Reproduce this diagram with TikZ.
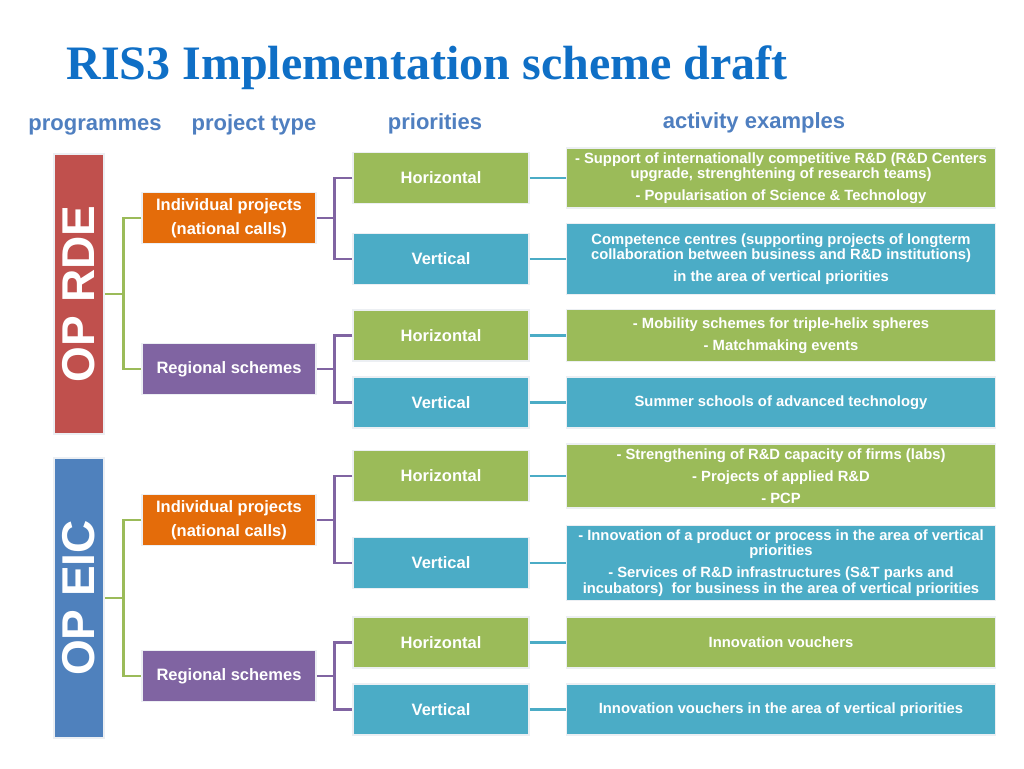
\documentclass[tikz,border=0pt]{standalone}
\usepackage{fontspec}
\setmainfont{Liberation Sans}
\newfontfamily\titlefont{Liberation Serif}
\usepackage{graphicx}
\usepackage{tikz}
\usetikzlibrary{positioning}
\definecolor{ristitle}{HTML}{0F6FC6}
\definecolor{headblue}{HTML}{4F7FC0}
\definecolor{rdered}{HTML}{C0504D}
\definecolor{eicblue}{HTML}{4F81BD}
\definecolor{indorange}{HTML}{E46C0A}
\definecolor{regpurple}{HTML}{8064A2}
\definecolor{horgreen}{HTML}{9BBB59}
\definecolor{vertteal}{HTML}{4BACC6}
\definecolor{halo}{HTML}{ECEFF3}

\begin{document}
\begin{tikzpicture}[
  x=1pt,y=-1pt,
  node distance=36pt,
  base/.style={draw=halo,line width=1.5pt,text=white,align=center,inner sep=0pt},
  progbox/.style={base,minimum width=50pt,minimum height=280pt,font=\fontsize{46}{46}\selectfont\bfseries},
  typebox/.style={base,minimum width=174pt,minimum height=51pt,font=\fontsize{16.5}{24.5}\selectfont\bfseries},
  priobox/.style={base,minimum width=176pt,minimum height=51pt,font=\fontsize{16.5}{20}\selectfont\bfseries},
  actbox/.style={base,minimum width=429pt,font=\fontsize{14.8}{15.5}\selectfont\bfseries},
  colhead/.style={text=headblue,anchor=base,font=\fontsize{22}{22}\selectfont\bfseries},
  tree/.style={line width=2.8pt}
]
\useasboundingbox (0,0) rectangle (1024,768);
\fill[white] (0,0) rectangle (1024,768);

\node[anchor=base west,text=ristitle,font=\titlefont\fontsize{48}{48}\selectfont\bfseries] (title) at (63,79) {RIS3 Implementation scheme draft};

\node[colhead] (hprog) at (95,130) {programmes};
\node[colhead] (htype) at (254,130) {project type};
\node[colhead] (hprio) at (435,129) {priorities};
\node[colhead] (hact) at (754,128) {activity examples};

% programmes
\node[progbox,fill=rdered] (rde) at (79,294) {\rotatebox{90}{OP RDE}};
\node[progbox,fill=eicblue] (eic) at (79,598) {\rotatebox{90}{OP EIC}};

% project types
\node[typebox,fill=indorange] (ind1) at (229,218) {Individual projects\\(national calls)};
\node[typebox,fill=regpurple] (reg1) at (229,369) {Regional schemes};
\node[typebox,fill=indorange] (ind2) at (229,520) {Individual projects\\(national calls)};
\node[typebox,fill=regpurple] (reg2) at (229,676) {Regional schemes};

% priorities
\node[priobox,fill=horgreen] (hor1) at (441,178) {Horizontal};
\node[priobox,fill=vertteal] (ver1) at (441,259) {Vertical};
\node[priobox,fill=horgreen] (hor2) at (441,335.5) {Horizontal};
\node[priobox,fill=vertteal] (ver2) at (441,402.5) {Vertical};
\node[priobox,fill=horgreen] (hor3) at (441,476) {Horizontal};
\node[priobox,fill=vertteal] (ver3) at (441,563) {Vertical};
\node[priobox,fill=horgreen] (hor4) at (441,642.5) {Horizontal};
\node[priobox,fill=vertteal] (ver4) at (441,709.5) {Vertical};

% activity examples
\node[actbox,fill=horgreen,minimum height=60pt,right=of hor1] (act1) {- Support of internationally competitive R\&D (R\&D Centers\\upgrade, strenghtening of research teams)\\[6.5pt]- Popularisation of Science \& Technology};
\node[actbox,fill=vertteal,minimum height=71pt,right=of ver1] (act2) {Competence centres (supporting projects of longterm\\collaboration between business and R\&D institutions)\\[6.5pt]in the area of vertical priorities};
\node[actbox,fill=horgreen,minimum height=52pt,right=of hor2] (act3) {- Mobility schemes for triple-helix spheres\\[6.5pt]- Matchmaking events};
\node[actbox,fill=vertteal,minimum height=51pt,right=of ver2] (act4) {Summer schools of advanced technology};
\node[actbox,fill=horgreen,minimum height=64pt,right=of hor3] (act5) {- Strengthening of R\&D capacity of firms (labs)\\[6.5pt]- Projects of applied R\&D\\[6.5pt]- PCP};
\node[actbox,fill=vertteal,minimum height=75pt,right=of ver3] (act6) {- Innovation of a product or process in the area of vertical\\priorities\\[6.5pt]- Services of R\&D infrastructures (S\&T parks and\\incubators)\ \ for business in the area of vertical priorities};
\node[actbox,fill=horgreen,minimum height=51pt,right=of hor4] (act7) {Innovation vouchers};
\node[actbox,fill=vertteal,minimum height=51pt,right=of ver4] (act8) {Innovation vouchers in the area of vertical priorities};

% green trees
\coordinate (gj1) at ([xshift=19pt]rde.east);
\coordinate (gj2) at ([xshift=19pt]eic.east);
\draw[tree,horgreen] (rde) -- (gj1);
\draw[tree,horgreen] (ind1) -| (gj1) |- (reg1);
\draw[tree,horgreen] (eic) -- (gj2);
\draw[tree,horgreen] (ind2) -| (gj2) |- (reg2);

% purple trees
\coordinate (pj1) at ([xshift=18pt]ind1.east);
\coordinate (pj2) at ([xshift=18pt]reg1.east);
\coordinate (pj3) at ([xshift=18pt]ind2.east);
\coordinate (pj4) at ([xshift=18pt]reg2.east);
\draw[tree,regpurple] (ind1) -- (pj1);
\draw[tree,regpurple] (hor1) -| (pj1) |- (ver1);
\draw[tree,regpurple] (reg1) -- (pj2);
\draw[tree,regpurple] (hor2) -| (pj2) |- (ver2);
\draw[tree,regpurple] (ind2) -- (pj3);
\draw[tree,regpurple] (hor3) -| (pj3) |- (ver3);
\draw[tree,regpurple] (reg2) -- (pj4);
\draw[tree,regpurple] (hor4) -| (pj4) |- (ver4);

% teal links
\draw[tree,vertteal] (hor1) -- (act1);
\draw[tree,vertteal] (ver1) -- (act2);
\draw[tree,vertteal] (hor2) -- (act3);
\draw[tree,vertteal] (ver2) -- (act4);
\draw[tree,vertteal] (hor3) -- (act5);
\draw[tree,vertteal] (ver3) -- (act6);
\draw[tree,vertteal] (hor4) -- (act7);
\draw[tree,vertteal] (ver4) -- (act8);
\end{tikzpicture}
\end{document}
